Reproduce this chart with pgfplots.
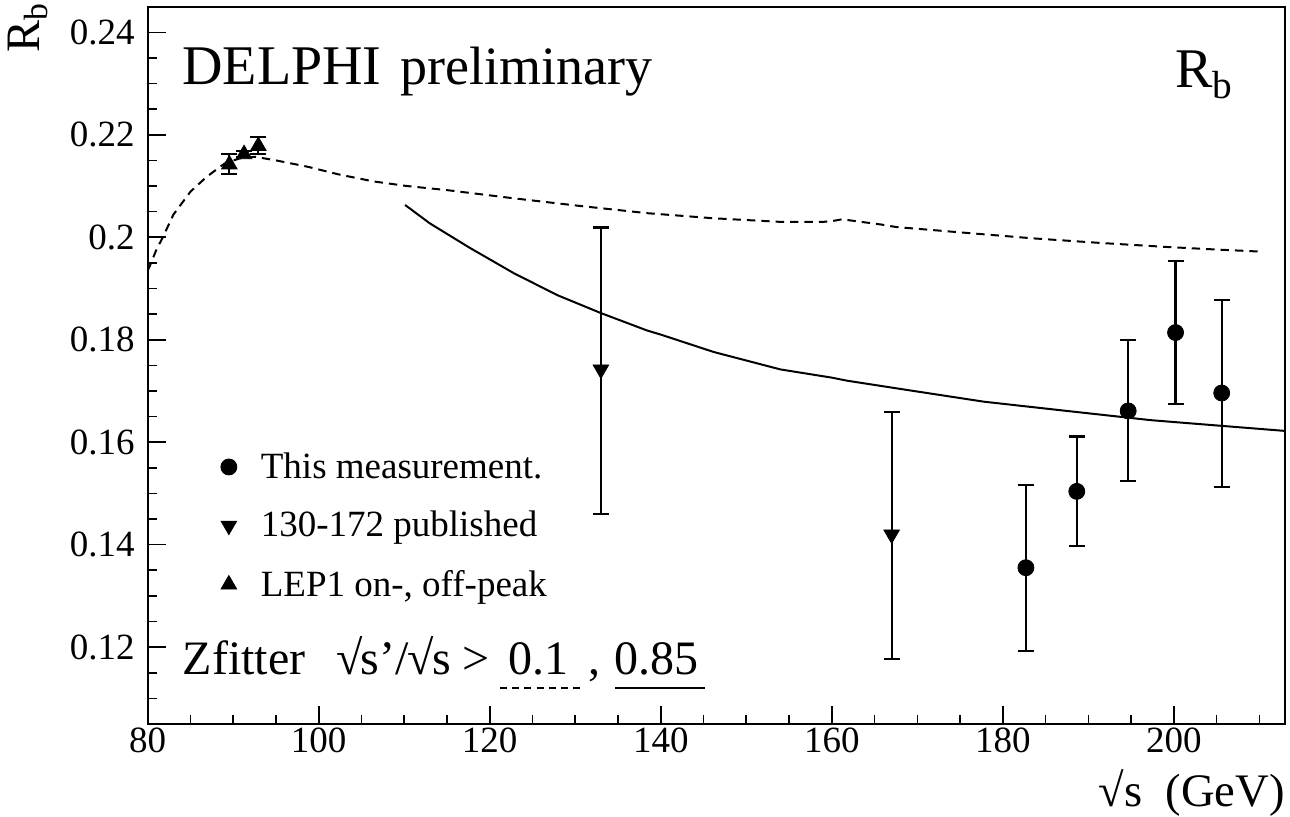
\documentclass[border=0pt]{standalone}
\usepackage{fontspec}
\setmainfont{Liberation Serif}
\usepackage{pgfplots}
\pgfplotsset{compat=1.18}
\begin{document}
\begin{tikzpicture}[x=1pt,y=1pt]
\useasboundingbox (-73.85,-46.5) rectangle (571.15,362);
\begin{axis}[
  at={(0,0)}, anchor=south west,
  scale only axis, width=568.65pt, height=358.65pt,
  xmin=80, xmax=213, ymin=0.105, ymax=0.245,
  axis line style={line width=1pt},
  xtick={80,100,...,200},
  minor xtick={85,90,95,105,110,115,125,130,135,145,150,155,165,170,175,185,190,195,205,210},
  ytick={0.12,0.14,0.16,0.18,0.2,0.22,0.24},
  minor ytick={0.105,0.11,0.115,0.125,0.13,0.135,0.145,0.15,0.155,0.165,0.17,0.175,0.185,0.19,0.195,0.205,0.21,0.215,0.225,0.23,0.235},
  scaled y ticks=false,
  yticklabel style={/pgf/number format/fixed, /pgf/number format/precision=2, xshift=-3pt},
  /pgf/number format/assume math mode=true,
  tick pos=left, tick align=inside,
  major tick length=9pt, minor tick length=4.7pt,
  every tick/.style={black, line width=0.8pt},
  tick label style={font=\fontsize{18.5}{18.5}\selectfont},
  xticklabel style={yshift=1.5pt},
  legend style={draw=none, fill=none, at={(axis description cs:0.0587,0.390)}, anchor=north west,
    font=\fontsize{18.5}{18.5}\selectfont, row sep=11pt, legend cell align=left,
    /tikz/every odd column/.append style={column sep=10pt}},
  clip=true,
]
% Zfitter sqrt(s')/sqrt(s) > 0.1 (dashed)
\addplot[forget plot, black, line width=1pt, dash pattern=on 4.2pt off 3pt] table {
80.0 0.1935
80.3 0.1946
81.0 0.1975
81.8 0.2001
83.0 0.2044
85.0 0.2089
86.9 0.2118
89.0 0.2144
90.8 0.2154
92.5 0.2157
94.7 0.2151
98.6 0.2138
102.5 0.2122
106.4 0.2109
110.3 0.2100
115.0 0.2092
122.8 0.2076
130.6 0.2061
138.4 0.2047
146.2 0.2037
154.0 0.2030
159.0 0.2030
160.2 0.2032
161.2 0.2035
163.0 0.2031
165.7 0.2025
167.5 0.2020
175.4 0.2009
183.4 0.1998
191.3 0.1989
199.2 0.1981
205.0 0.1976
210.1 0.1972
};
% Zfitter sqrt(s')/sqrt(s) > 0.85 (solid)
\addplot[forget plot, black, line width=1pt] table {
110.1 0.2063
113.0 0.2027
117.7 0.1979
122.8 0.1930
127.9 0.1887
133.0 0.1852
138.4 0.1818
140.0 0.1810
146.2 0.1776
154.0 0.1742
160.0 0.1726
161.8 0.1720
168.0 0.1704
177.8 0.1679
187.5 0.1661
197.3 0.1643
207.0 0.1630
213.0 0.1622
};
% This measurement
\addplot[black, only marks, mark=*, mark size=4pt,
  error bars/.cd, y dir=both, y explicit,
  error bar style={line width=1.1pt},
  error mark options={rotate=90, mark size=4pt, line width=1.1pt}]
  table[x=x, y=y, y error plus=ep, y error minus=em] {
x      y       ep      em
182.7  0.1355  0.0162  0.0162
188.65 0.1504  0.0107  0.0106
194.66 0.1661  0.0139  0.0137
200.2  0.1814  0.0139  0.0139
205.6  0.1696  0.0182  0.0184
};
\addlegendentry{This measurement.}
% 130-172 published
\addplot[black, only marks, mark=triangle*, mark size=4.5pt, mark options={rotate=180},
  error bars/.cd, y dir=both, y explicit,
  error bar style={line width=1.1pt},
  error mark options={rotate=90, mark size=4pt, line width=1.1pt}]
  table[x=x, y=y, y error plus=ep, y error minus=em] {
x      y       ep      em
133.0  0.1742  0.0277  0.0282
167.0  0.1420  0.0239  0.0243
};
\addlegendentry{130-172 published}
% LEP1 on-, off-peak
\addplot[black, only marks, mark=triangle*, mark size=4.5pt,
  error bars/.cd, y dir=both, y explicit,
  error bar style={line width=1.1pt},
  error mark options={rotate=90, mark size=4pt, line width=1.1pt}]
  table[x=x, y=y, y error plus=ep, y error minus=em] {
x      y       ep      em
89.55  0.2142  0.0021  0.0019
91.27  0.2162  0.0006  0.0006
92.94  0.2178  0.0018  0.0016
};
\addlegendentry{LEP1 on-, off-peak}
\end{axis}
% annotations
\node[anchor=base west, inner sep=0pt, font=\fontsize{28}{28}\selectfont] at (17.2,319.5) {DELPHI};
\node[anchor=base west, inner sep=0pt, font=\fontsize{27}{27}\selectfont] at (126.2,319.5) {preliminary};
\node[anchor=base west, inner sep=0pt, font=\fontsize{28}{28}\selectfont] at (513.6,318) {R\textsubscript{b}};
\node[inner sep=0pt, rotate=90, font=\fontsize{24}{24}\selectfont] at (-59.85,348) {R\textsubscript{b}};
\node[anchor=base east, inner sep=0pt, font=\fontsize{23.3}{23.3}\selectfont] at (568.65,-41.5) {√s\ \ (GeV)};
\begin{scope}[every node/.style={anchor=base west, inner sep=0pt, font=\fontsize{24}{24}\selectfont}]
\node at (17.45,24.5) {Zfitter};
\node at (94.15,24.5) {√\kern-1pt s’/\kern-0.5pt√\kern-1pt s};
\node at (157.15,24.5) {>};
\node at (180.15,24.5) {0.1};
\node at (220.15,24.5) {,};
\node at (232.95,24.5) {0.85};
\end{scope}
\draw[line width=1pt, dash pattern=on 3.5pt off 2.6pt] (176.15,18) -- (216.65,18);
\draw[line width=1.2pt] (233.65,18) -- (278.65,18);
\end{tikzpicture}
\end{document}
